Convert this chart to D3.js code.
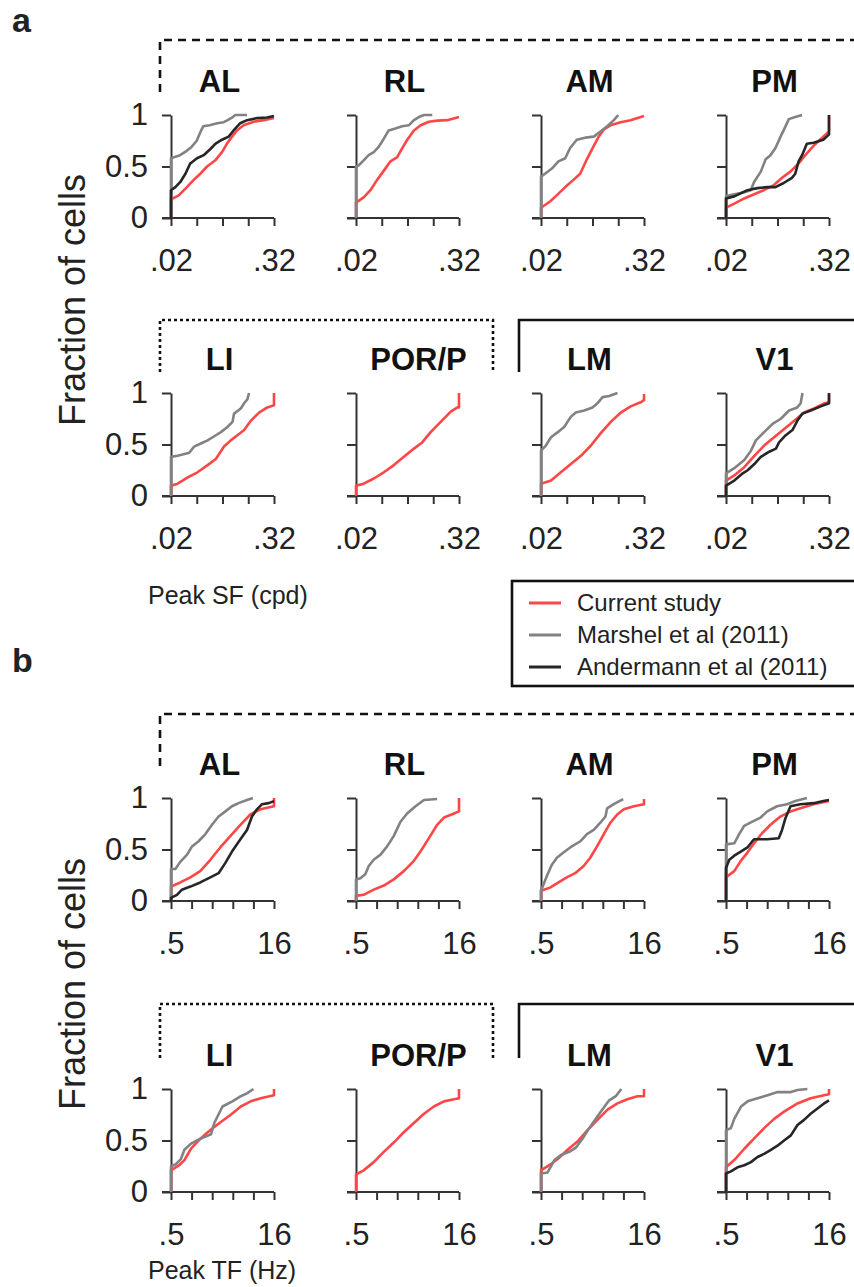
<!DOCTYPE html>
<html>
<head>
<meta charset="utf-8">
<script src="https://cdn.jsdelivr.net/npm/d3@7"></script>
<style>
  body { margin: 0; background: #fff; }
  svg { display: block; font-family: "Liberation Sans", Arial, Helvetica, sans-serif; }
</style>
</head>
<body>
<div id="chart"></div>
<script>
// cumulative distributions of peak SF / TF per visual area
var areas = ["AL", "RL", "AM", "PM", "LI", "POR/P", "LM", "V1"];
var sfTicks = [0.02, 0.04, 0.08, 0.16, 0.32];
var tfTicks = [0.5, 1, 2, 4, 8, 16];
var yTicks = [0, 0.5, 1];
var seriesNames = ["Current study", "Marshel et al (2011)", "Andermann et al (2011)"];

// [peak SF (cpd), fraction of cells]
var sfCurrent = {
  "AL": [[.02,0],[.02,.18],[.0246,.22],[.0307,.30],[.0368,.37],[.0441,.43],[.0528,.50],[.0659,.56],[.0789,.64],[.09,.72],[.1034,.79],[.118,.85],[.141,.90],[.185,.935],[.243,.95],[.32,.97]],
  "RL": [[.02,0],[.02,.15],[.0246,.20],[.0295,.27],[.0353,.37],[.0423,.46],[.0506,.55],[.0606,.59],[.0692,.675],[.0795,.76],[.0951,.85],[.1139,.90],[.1422,.935],[.1787,.945],[.2342,.95],[.32,.98]],
  "AM": [[.02,0],[.02,.10],[.0255,.16],[.0305,.22],[.0384,.30],[.0479,.37],[.0574,.43],[.0687,.57],[.0828,.70],[.0945,.79],[.1085,.86],[.13,.90],[.1703,.93],[.2231,.95],[.32,.99]],
  "PM": [[.02,0],[.02,.10],[.025,.14],[.0327,.19],[.0426,.23],[.0554,.27],[.0726,.32],[.0906,.39],[.1131,.45],[.1412,.53],[.1691,.61],[.2111,.70],[.2511,.76],[.32,.84],[.32,1]],
  "LI": [[.02,0],[.02,.10],[.0239,.12],[.0314,.18],[.0408,.23],[.0535,.30],[.0668,.36],[.0834,.48],[.0999,.54],[.1196,.59],[.1432,.64],[.1715,.73],[.2141,.81],[.2672,.86],[.32,.88],[.32,1]],
  "POR/P": [[.02,0],[.02,.10],[.0246,.12],[.0323,.17],[.0423,.23],[.0554,.30],[.0726,.38],[.0951,.46],[.1188,.52],[.1493,.62],[.1956,.72],[.2563,.82],[.307,.86],[.32,.86],[.32,1]],
  "LM": [[.02,0],[.02,.12],[.0262,.15],[.0341,.23],[.0447,.31],[.0586,.39],[.0767,.49],[.0999,.61],[.1309,.72],[.1715,.81],[.2231,.87],[.2925,.91],[.32,.93],[.32,.99]],
  "V1": [[.02,0],[.02,.15],[.025,.20],[.0327,.28],[.0429,.39],[.0558,.49],[.0731,.57],[.0958,.65],[.1255,.73],[.1633,.81],[.2141,.85],[.2806,.90],[.32,.91],[.32,.99]]
};
var sfMarshel = {
  "AL": [[.02,0],[.02,.58],[.0255,.61],[.0303,.65],[.0348,.69],[.04,.75],[.0444,.84],[.0476,.89],[.0566,.90],[.0696,.92],[.0828,.93],[.0919,.95],[.1056,.98],[.1131,1],[.155,1]],
  "RL": [[.02,0],[.02,.50],[.0214,.51],[.0246,.56],[.0281,.61],[.0323,.64],[.0368,.69],[.0423,.77],[.0482,.85],[.0578,.87],[.0692,.89],[.0828,.90],[.0951,.95],[.1085,.98],[.1247,1],[.156,1]],
  "AM": [[.02,0],[.02,.40],[.0223,.43],[.0268,.48],[.032,.55],[.0384,.58],[.0438,.68],[.0524,.76],[.0659,.78],[.0828,.79],[.0992,.84],[.1187,.89],[.1422,.95],[.16,1]],
  "PM": [[.02,0],[.02,.21],[.025,.23],[.0327,.25],[.0389,.27],[.0426,.35],[.051,.45],[.0582,.57],[.0663,.61],[.0757,.68],[.0869,.79],[.0992,.89],[.1085,.96],[.129,.98],[.155,1]],
  "LI": [[.02,0],[.02,.38],[.0239,.39],[.0327,.42],[.0373,.48],[.0447,.51],[.0535,.54],[.0641,.58],[.0767,.62],[.0913,.67],[.1048,.72],[.1093,.80],[.1309,.85],[.1432,.90],[.1567,.94],[.1633,1]],
  "LM": [[.02,0],[.02,.44],[.0228,.49],[.0262,.57],[.0314,.62],[.0373,.67],[.0408,.72],[.0447,.77],[.051,.81],[.0641,.83],[.08,.86],[.0913,.90],[.1048,.96],[.1255,.97],[.1567,1]],
  "V1": [[.02,0],[.02,.22],[.025,.27],[.0327,.35],[.0392,.44],[.0447,.54],[.0558,.62],[.0701,.70],[.0875,.75],[.1093,.83],[.1364,.86],[.1493,.90],[.1567,1]]
};
var sfAndermann = {
  "AL": [[.02,0],[.02,.27],[.0225,.30],[.0257,.35],[.0295,.43],[.0336,.53],[.0403,.58],[.0482,.61],[.0578,.67],[.0659,.72],[.0789,.76],[.0945,.79],[.1078,.85],[.129,.92],[.155,.95],[.203,.97],[.265,.975],[.32,.99]],
  "PM": [[.02,0],[.02,.19],[.025,.21],[.0356,.27],[.0466,.29],[.0606,.30],[.0757,.30],[.0945,.34],[.118,.39],[.129,.43],[.1412,.55],[.155,.61],[.1763,.72],[.2111,.73],[.2747,.76],[.3007,.79],[.32,.81],[.32,1]],
  "V1": [[.02,0],[.02,.10],[.025,.15],[.0314,.22],[.0358,.25],[.0429,.31],[.051,.38],[.0641,.43],[.0767,.46],[.0834,.52],[.0999,.59],[.1196,.64],[.1364,.73],[.1567,.80],[.1956,.83],[.2563,.87],[.32,.90],[.32,1]]
};

// [peak TF (Hz), fraction of cells]
var tfCurrent = {
  "AL": [[.5,0],[.5,.14],[.683,.18],[.959,.23],[1.338,.29],[1.879,.40],[2.621,.52],[3.681,.63],[5.17,.74],[7.21,.84],[10.13,.89],[16,.92],[16,1]],
  "RL": [[.5,0],[.5,.05],[.646,.06],[.908,.11],[1.275,.15],[1.778,.21],[2.497,.29],[3.507,.39],[4.377,.48],[5.815,.61],[7.67,.74],[9.65,.81],[13.55,.85],[16,.87],[16,1]],
  "AM": [[.5,0],[.5,.10],[.678,.13],[.901,.18],[1.189,.23],[1.58,.27],[2.1,.34],[2.621,.42],[3.294,.53],[4.141,.65],[5.17,.76],[6.498,.84],[8.11,.89],[11.39,.92],[16,.94],[16,.99]],
  "PM": [[.5,0],[.5,.23],[.66,.29],[.823,.39],[1.028,.47],[1.283,.56],[1.693,.66],[2.234,.74],[3.117,.82],[4.377,.87],[6.1,.90],[9.51,.94],[16,.97]],
  "LI": [[.5,0],[.5,.21],[.66,.26],[.785,.31],[.98,.42],[1.223,.49],[1.526,.55],[2.028,.62],[2.676,.68],[3.732,.75],[5.24,.83],[7.31,.88],[10.2,.91],[16,.94],[16,1]],
  "POR/P": [[.5,0],[.5,.17],[.646,.21],[.908,.29],[1.275,.39],[1.778,.48],[2.497,.58],[3.507,.67],[4.925,.76],[6.87,.83],[9.65,.88],[13.55,.90],[16,.91],[16,1]],
  "LM": [[.5,0],[.5,.21],[.66,.26],[.877,.32],[1.223,.41],[1.705,.49],[2.395,.60],[3.34,.70],[4.69,.80],[6.54,.86],[9.13,.90],[12.81,.93],[16,.93],[16,1]],
  "V1": [[.5,0],[.5,.24],[.66,.31],[.927,.42],[1.292,.52],[1.803,.62],[2.53,.71],[3.53,.78],[5.54,.86],[8.63,.91],[13.55,.94],[16,.95],[16,1]]
};
var tfMarshel = {
  "AL": [[.5,0],[.5,.31],[.579,.31],[.683,.38],[.859,.45],[1.014,.53],[1.266,.58],[1.591,.65],[1.986,.74],[2.48,.82],[3.117,.87],[3.891,.92],[4.856,.95],[6.45,.98],[7.89,1]],
  "RL": [[.5,0],[.5,.21],[.579,.22],[.683,.26],[.768,.34],[.908,.40],[1.141,.45],[1.424,.53],[1.778,.63],[2.234,.77],[2.79,.85],[3.706,.92],[4.925,.98],[7.67,.99]],
  "AM": [[.5,0],[.5,.10],[.607,.24],[.717,.35],[.853,.42],[1.064,.47],[1.338,.52],[1.879,.58],[2.346,.65],[2.948,.69],[3.681,.76],[4.377,.82],[4.627,.90],[5.776,.94],[7.95,.99]],
  "PM": [[.5,0],[.5,.55],[.66,.56],[.779,.65],[.92,.73],[1.214,.77],[1.602,.81],[2.0,.87],[2.79,.92],[3.891,.94],[5.17,.97],[7.62,1]],
  "LI": [[.5,0],[.5,.25],[.59,.27],[.697,.32],[.785,.41],[.98,.47],[1.366,.52],[1.918,.56],[2.144,.67],[2.828,.83],[3.945,.88],[5.24,.93],[6.54,.96],[8.0,1]],
  "LM": [[.5,0],[.5,.18],[.624,.19],[.785,.31],[.98,.36],[1.292,.39],[1.613,.43],[2.028,.52],[2.53,.62],[3.16,.71],[3.945,.80],[4.96,.89],[6.19,.93],[7.46,1]],
  "V1": [[.5,0],[.5,.60],[.59,.62],[.66,.71],[.829,.83],[1.035,.88],[1.444,.91],[2.028,.94],[2.828,.97],[4.437,.97],[5.54,.99],[7.73,1]]
};
var tfAndermann = {
  "AL": [[.5,0],[.5,.03],[.611,.06],[.722,.11],[.959,.14],[1.338,.18],[1.879,.23],[2.48,.27],[3.117,.37],[3.891,.48],[5.17,.60],[6.45,.69],[7.62,.82],[9.0,.89],[10.7,.94],[13.36,.95],[16,.97]],
  "PM": [[.5,0],[.5,.32],[.559,.40],[.66,.44],[.823,.48],[1.028,.52],[1.283,.60],[2.0,.60],[2.948,.61],[3.294,.69],[3.681,.80],[4.377,.92],[6.1,.94],[9.51,.95],[13.27,.97],[16,.98]],
  "V1": [[.5,0],[.5,.18],[.59,.20],[.737,.24],[.927,.26],[1.157,.29],[1.444,.34],[1.803,.37],[2.265,.41],[2.828,.45],[3.53,.50],[4.437,.55],[5.54,.65],[6.92,.70],[8.63,.76],[10.85,.81],[13.55,.86],[16,.89]]
};

var colors = ["#ff4646", "#828282", "#262626"];

var width = 854, height = 1287;
var colX = [171, 356, 541, 726],
    rowY = [115, 393, 798, 1089],
    pw = 103, ph = 103;

var svg = d3.select("#chart")
  .append("svg")
  .attr("width", width)
  .attr("height", height);

var yScale = d3.scaleLinear().domain([0, 1]).range([ph, 0]);

var line = d3.line()
  .x(function(d) { return d.x; })
  .y(function(d) { return d.y; });

function drawPanel(area, i, rowTop, ticks, series, labelY) {
  var x0 = colX[i % 4];
  var xScale = d3.scaleLog()
    .base(2)
    .domain([ticks[0], ticks[ticks.length - 1]])
    .range([0, pw]);

  var g = svg.append("g")
    .attr("transform", "translate(" + x0 + "," + rowTop + ")");

  var xAxis = d3.axisBottom(xScale)
    .tickValues(ticks)
    .tickSize(8)
    .tickSizeOuter(0)
    .tickPadding(23)
    .tickFormat(function(d, k) {
      if (k === 0 || k === ticks.length - 1) return String(d).replace(/^0\./, ".");
      return "";
    });

  var yAxis = d3.axisLeft(yScale)
    .tickValues(yTicks)
    .tickSize(9)
    .tickSizeOuter(0)
    .tickPadding(14)
    .tickFormat(labelY ? function(d) { return d; } : function() { return ""; });

  var gx = g.append("g")
    .attr("transform", "translate(0," + ph + ")")
    .call(xAxis);
  var gy = g.append("g").call(yAxis);

  [gx, gy].forEach(function(a) {
    a.select(".domain").attr("stroke", "#333").attr("stroke-width", 2);
    a.selectAll(".tick line").attr("stroke", "#333").attr("stroke-width", 2);
    a.selectAll(".tick text")
      .attr("fill", "#222")
      .style("font-size", "31px")
      .style("font-family", "'Liberation Sans', Arial, sans-serif");
  });
  gx.select(".domain").attr("d", "M-9,0H" + pw);

  series.forEach(function(s, k) {
    var pts = s[area];
    if (!pts) return;
    g.append("path")
      .attr("d", line(pts.map(function(p) { return { x: xScale(p[0]), y: yScale(p[1]) }; })))
      .attr("fill", "none")
      .attr("stroke", colors[k])
      .attr("stroke-width", 2.6)
      .attr("stroke-linejoin", "round");
  });

  svg.append("text")
    .attr("x", x0 + pw / 2 - 3 + (area === "POR/P" ? 14 : 0))
    .attr("y", rowTop - 23)
    .attr("text-anchor", "middle")
    .style("font-size", "31px")
    .style("font-weight", "bold")
    .attr("fill", "#111")
    .text(area);
}

areas.forEach(function(a, i) {
  var r = i < 4 ? 0 : 1;
  drawPanel(a, i, rowY[r], sfTicks, [sfCurrent, sfMarshel, sfAndermann], i % 4 === 0);
  drawPanel(a, i, rowY[r + 2], tfTicks, [tfCurrent, tfMarshel, tfAndermann], i % 4 === 0);
});

// group boxes
function box(d, dash) {
  svg.append("path")
    .attr("d", d)
    .attr("fill", "none")
    .attr("stroke", "#111")
    .attr("stroke-width", 2.6)
    .attr("stroke-dasharray", dash);
}
[[40, 92], [714, 766]].forEach(function(b) {
  box("M160," + b[1] + "V" + b[0] + "H860", "8,6");
});
[[320, 372], [1004, 1058]].forEach(function(b) {
  box("M160," + b[1] + "V" + b[0] + "H493V" + b[1], "3,3");
  box("M519," + b[1] + "V" + b[0] + "H860", null);
});

// panel letters
svg.append("text").attr("x", 12).attr("y", 32).text("a")
  .style("font-size", "34px").style("font-weight", "bold").attr("fill", "#222");
svg.append("text").attr("x", 12).attr("y", 672).text("b")
  .style("font-size", "34px").style("font-weight", "bold").attr("fill", "#222");

// y axis titles
[300, 984].forEach(function(cy) {
  svg.append("text")
    .attr("transform", "translate(85," + cy + ") rotate(-90)")
    .attr("text-anchor", "middle")
    .style("font-size", "36px")
    .attr("fill", "#222")
    .text("Fraction of cells");
});

// x axis titles
svg.append("text").attr("x", 148).attr("y", 604)
  .style("font-size", "25px").attr("fill", "#222").text("Peak SF (cpd)");
svg.append("text").attr("x", 148).attr("y", 1279)
  .style("font-size", "25px").attr("fill", "#222").text("Peak TF (Hz)");

// legend
var legend = svg.append("g");
legend.append("rect")
  .attr("x", 512).attr("y", 581)
  .attr("width", 400).attr("height", 105)
  .attr("fill", "none")
  .attr("stroke", "#111")
  .attr("stroke-width", 2.6);
seriesNames.forEach(function(name, k) {
  var y = 603 + k * 32;
  legend.append("line")
    .attr("x1", 529).attr("x2", 561)
    .attr("y1", y).attr("y2", y)
    .attr("stroke", colors[k])
    .attr("stroke-width", 3);
  legend.append("text")
    .attr("x", 577).attr("y", y)
    .attr("dy", "0.35em")
    .style("font-size", "24px")
    .attr("fill", "#222")
    .text(name);
});
</script>
</body>
</html>
